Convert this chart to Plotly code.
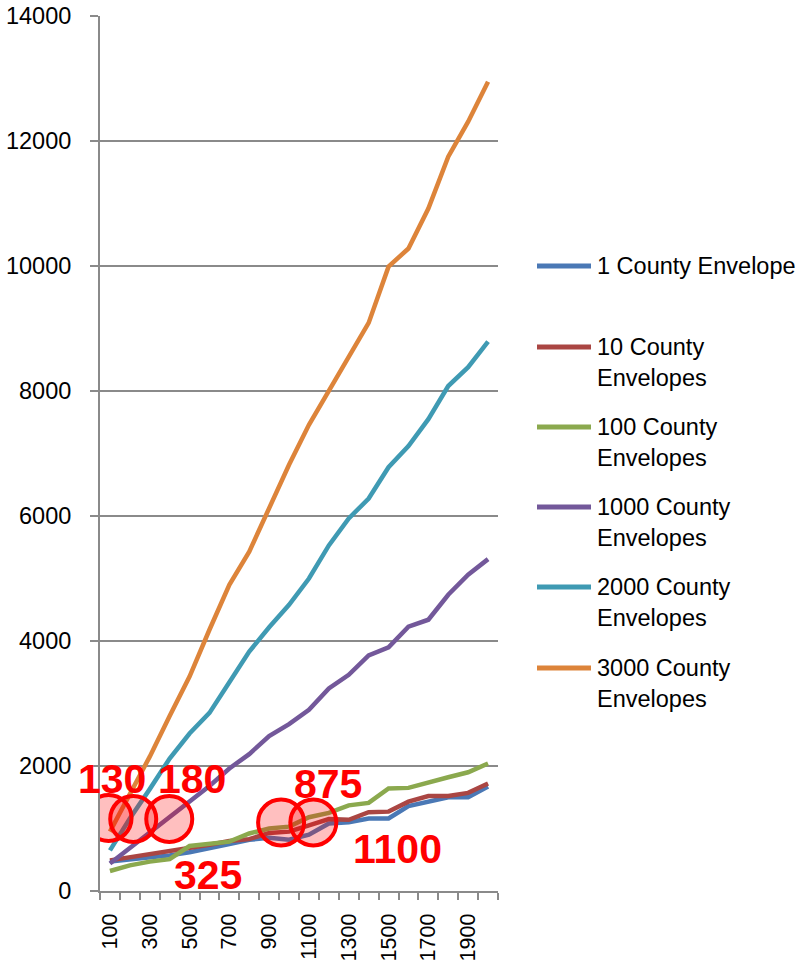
import plotly.graph_objects as go

# Number of records on the x axis
sizes = [100, 200, 300, 400, 500, 600, 700, 800, 900, 1000,
         1100, 1200, 1300, 1400, 1500, 1600, 1700, 1800, 1900, 2000]

series_names = ["1 County Envelope", "10 County Envelopes", "100 County Envelopes",
                "1000 County Envelopes", "2000 County Envelopes", "3000 County Envelopes"]
legend_labels = ["1 County Envelope", "10 County<br>Envelopes", "100 County<br>Envelopes",
                 "1000 County<br>Envelopes", "2000 County<br>Envelopes", "3000 County<br>Envelopes"]

env_1 = [470, 500, 540, 570, 620, 680, 750, 820, 850, 820,
         900, 1080, 1100, 1160, 1160, 1360, 1430, 1500, 1500, 1670]
env_10 = [490, 540, 590, 630, 680, 740, 800, 830, 930, 950,
          1050, 1150, 1140, 1260, 1270, 1430, 1520, 1520, 1570, 1720]
env_100 = [320, 410, 470, 510, 720, 750, 790, 920, 1000, 1030,
           1180, 1250, 1370, 1410, 1640, 1650, 1740, 1820, 1900, 2040]
env_1000 = [440, 690, 930, 1180, 1430, 1680, 1960, 2190, 2480, 2670,
            2900, 3240, 3460, 3770, 3900, 4230, 4340, 4740, 5060, 5310]
env_2000 = [650, 1160, 1630, 2120, 2520, 2850, 3340, 3830, 4220, 4580,
            5000, 5530, 5960, 6280, 6780, 7120, 7550, 8080, 8380, 8790]
env_3000 = [950, 1550, 2150, 2800, 3430, 4180, 4900, 5430, 6120, 6820,
            7460, 8000, 8570, 9090, 9990, 10280, 10920, 11750, 12310, 12950]

colors = ["#4A78B5", "#AA4643", "#8BA94E", "#73589A", "#3F9AB3", "#DD843A"]

# Highlighted crossover callouts
callout_text = ["130", "180", "325", "875", "1100"]
callout_x = [110, 511, 593, 1196, 1545]
callout_y = [1792, 1792, 256, 1720, 672]

marker_x = [93, 217, 398, 960, 1122]
marker_y = [1168, 1152, 1152, 1096, 1096]

y_ticks = [0, 2000, 4000, 6000, 8000, 10000, 12000, 14000]
x_label_vals = [100, 300, 500, 700, 900, 1100, 1300, 1500, 1700, 1900]

grid_col = "#8A8A8A"
font_family = "Liberation Sans, Arial, sans-serif"
fsize = 23.5

fig = go.Figure()
for name, vals, col in zip(series_names,
                           [env_1, env_10, env_100, env_1000, env_2000, env_3000],
                           colors):
    fig.add_trace(go.Scatter(x=sizes, y=vals, mode="lines", name=name,
                             line=dict(color=col, width=4.5), showlegend=False))

shapes = []
for cx, cy in zip(marker_x, marker_y):
    shapes.append(dict(type="circle", xref="x", yref="y",
                       xsizemode="pixel", ysizemode="pixel",
                       xanchor=cx, yanchor=cy, x0=-23, x1=23, y0=-23, y1=23,
                       line=dict(color="#FF0000", width=4),
                       fillcolor="rgba(255,0,0,0.25)", layer="above"))

annotations = []
for t, ax_, ay_ in zip(callout_text, callout_x, callout_y):
    annotations.append(dict(x=ax_, y=ay_, xref="x", yref="y", text=t, showarrow=False,
                            xanchor="center", yanchor="middle",
                            font=dict(family="Liberation Sans, Arial, sans-serif",
                                      size=41, color="#FF0000", weight="bold")))

# Legend drawn beside the plot area (paper coordinates)
plot_left, plot_w, plot_bottom, plot_h = 100, 398, 891, 875
legend_rows = [266, 347, 427, 507, 587, 668]
line_spacing = 31
for lab, col, row in zip(legend_labels, colors, legend_rows):
    ly = (plot_bottom - row) / plot_h
    shapes.append(dict(type="line", xref="paper", yref="paper",
                       x0=(537 - plot_left) / plot_w, x1=(591 - plot_left) / plot_w,
                       y0=ly, y1=ly, line=dict(color=col, width=5)))
    n_lines = lab.count("<br>") + 1
    center = row + (n_lines - 1) * line_spacing / 2
    annotations.append(dict(x=(595 - plot_left) / plot_w, y=(plot_bottom - center) / plot_h,
                            xref="paper", yref="paper", text=lab, showarrow=False,
                            xanchor="left", yanchor="middle", align="left",
                            font=dict(family=font_family, size=fsize, color="#000000")))

fig.update_layout(
    width=798, height=963,
    margin=dict(l=100, r=300, t=16, b=72),
    paper_bgcolor="white", plot_bgcolor="white",
    font=dict(family=font_family, size=fsize, color="#000000"),
    shapes=shapes, annotations=annotations,
    showlegend=False,
)
fig.update_xaxes(
    range=[50, 2050], tickmode="array", tickvals=x_label_vals,
    ticktext=[str(v) for v in x_label_vals], tickangle=-90,
    tickfont=dict(size=21.5),
    ticks="", showgrid=False, zeroline=False, automargin=False,
    showline=True, linecolor=grid_col, linewidth=2,
    ticklabelstandoff=12,
    minor=dict(tickmode="array", tickvals=[v - 50 for v in sizes] + [2050],
               ticks="outside", ticklen=7, tickcolor=grid_col, tickwidth=2, showgrid=False),
)
fig.update_yaxes(
    range=[0, 14000], tickmode="array", tickvals=y_ticks,
    ticktext=[str(v) for v in y_ticks], automargin=False,
    showgrid=True, gridcolor=grid_col, gridwidth=2, zeroline=False,
    showline=True, linecolor=grid_col, linewidth=2,
    ticks="outside", ticklen=8, tickcolor=grid_col, tickwidth=2,
    ticklabelstandoff=14,
)

fig.write_html("out.html")
